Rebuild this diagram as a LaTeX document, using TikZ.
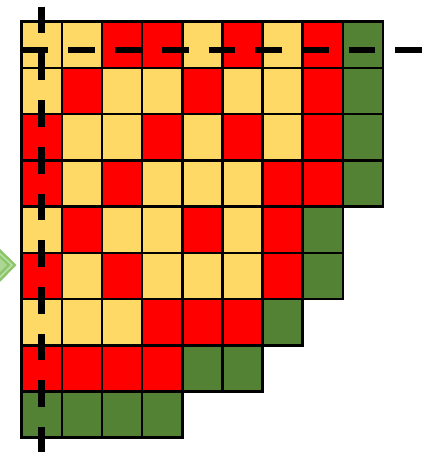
\documentclass[tikz,border=0pt]{standalone}
\usetikzlibrary{calc}
\definecolor{cellY}{HTML}{FFD966}
\definecolor{cellR}{HTML}{FF0000}
\definecolor{cellG}{HTML}{548235}
\definecolor{arrowG}{HTML}{8CC56B}
\definecolor{arrowL}{HTML}{B8DFA3}
\tikzset{
  cellbox/.style={line width=2.6pt, draw=black, line join=miter},
  cutline/.style={line width=6.6pt, draw=black, dash pattern=on 26.7pt off 20pt},
}
\begin{document}
\begin{tikzpicture}[x=1pt,y=-1pt]
\useasboundingbox (0,0) rectangle (434,452);
% green chevron at the left edge
\fill[arrowG] (-2,247) -- (16.5,265) -- (-2,284) -- cycle;
\draw[arrowL, line width=1.5pt] (-2,252) -- (12,265) -- (-2,279);
\fill[arrowL!70!arrowG] (-2,256) -- (7,265) -- (-2,274) -- cycle;
% grid of cells
\foreach \r/\row in {
  0/{Y,Y,R,R,Y,R,Y,R,G},
  1/{Y,R,Y,Y,R,Y,Y,R,G},
  2/{R,Y,Y,R,Y,R,Y,R,G},
  3/{R,Y,R,Y,Y,Y,R,R,G},
  4/{Y,R,Y,Y,R,Y,R,G},
  5/{R,Y,R,Y,Y,Y,R,G},
  6/{Y,Y,Y,R,R,R,G},
  7/{R,R,R,R,G,G},
  8/{G,G,G,G}}{
  \foreach \c [count=\i from 0] in \row {
    \pgfmathsetmacro{\xa}{21.7+40.14*\i}
    \pgfmathsetmacro{\ya}{21.7+46.22*\r}
    \path[cellbox, fill=cell\c] (\xa,\ya) rectangle ++(40.14,46.22);
  }
}
% dashed cut lines
\coordinate (vtop) at (41.7,6.7);
\coordinate (vbot) at (41.7,460);
\coordinate (hleft) at (21.7,50);
\coordinate (hright) at (421.7,50);
\draw[cutline] (vtop) -- (vbot);
\draw[cutline] (hleft) -- (hright);
\end{tikzpicture}
\end{document}
